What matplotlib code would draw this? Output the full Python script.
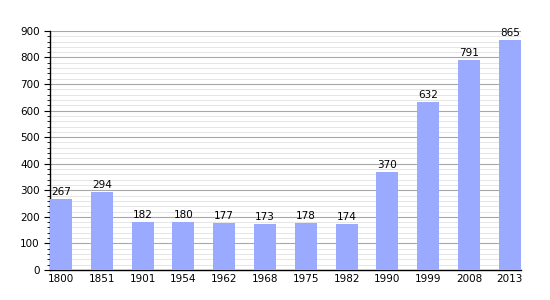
import matplotlib as mpl
mpl.use('Agg')
import matplotlib.pyplot as plt
from matplotlib.ticker import MultipleLocator

#
#--- population data
#
years  = ['1800', '1851', '1901', '1954', '1962', '1968', '1975', '1982', '1990', '1999', '2008', '2013']
values = [267, 294, 182, 180, 177, 173, 178, 174, 370, 632, 791, 865]

fig = plt.figure(figsize=(5.5, 3.0), dpi=100)
ax  = fig.add_axes([0.0909, 0.1, 0.856, 0.797])

pos   = list(range(len(years)))
width = 0.54
ax.bar(pos, values, width=width, align='edge', color='#99aaff', zorder=3)

for p, v in zip(pos, values):
    ax.text(p + width / 2, v + 8, str(v), ha='center', va='bottom', fontsize=7.5, zorder=4)

ax.set_xlim(0, len(years) - 1 + width)
ax.set_ylim(0, 900)
ax.set_xticks([p + width / 2 for p in pos])
ax.set_xticklabels(years, fontsize=7.5)
ax.yaxis.set_major_locator(MultipleLocator(100))
ax.yaxis.set_minor_locator(MultipleLocator(20))
ax.tick_params(axis='y', which='major', labelsize=7.5, length=4, width=0.8)
ax.tick_params(axis='y', which='minor', length=2, width=0.6)
ax.tick_params(axis='x', length=0, pad=3)

ax.grid(axis='y', which='major', color='#a8a8a8', linewidth=0.8, zorder=0)
ax.grid(axis='y', which='minor', color='#e0e0e0', linewidth=0.6, zorder=0)

for s in ['top', 'right']:
    ax.spines[s].set_visible(False)
ax.spines['left'].set_linewidth(1.0)
ax.spines['bottom'].set_linewidth(1.0)

plt.savefig('out.png', dpi=100)
plt.close('all')
